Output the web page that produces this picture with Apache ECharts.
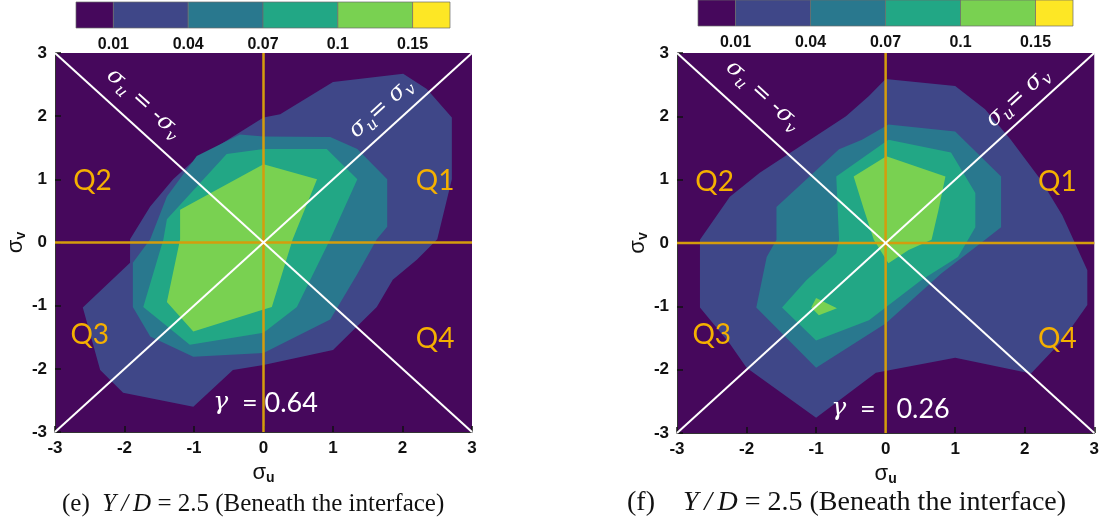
<!DOCTYPE html>
<html>
<head>
<meta charset="utf-8">
<script src="https://cdn.jsdelivr.net/npm/echarts@6/dist/echarts.min.js"></script>
<style>
  html, body { margin: 0; padding: 0; background: #fff; }
  #chart { width: 1102px; height: 522px; }
</style>
</head>
<body>
<div id="chart"></div>
<script>
// Contour levels of the joint PDF P(σu, σv) and the colour of each band
const levels = ['0.01', '0.04', '0.07', '0.1', '0.15'];
const bandColors = ['#46085c', '#3f4788', '#29788e', '#22a785', '#79d151', '#fde725'];

// Axis ticks shared by both panels
const axisTicks = [-3, -2, -1, 0, 1, 2, 3];

// Panel (e): iso-lines of the joint PDF, vertices in [σu, σv]
const eLevel1 = [[-1.92, 0.05], [-1.63, 0.57], [-1.30, 1.00], [-1.03, 1.27], [0.00, 1.98], [0.24, 2.03],
  [1.00, 2.54], [2.01, 2.67], [2.35, 2.43], [2.71, 1.98], [2.71, 1.00], [2.50, 0.05], [2.21, -0.27],
  [1.86, -0.59], [1.63, -1.02], [1.00, -1.70], [0.00, -1.94], [-0.44, -2.02], [-1.01, -2.60],
  [-2.02, -2.38], [-2.35, -2.02], [-2.60, -1.03], [-1.92, -0.32]];
const eLevel2 = [[-1.63, 0.05], [-1.39, 0.73], [-0.96, 1.37], [-0.34, 1.71], [0.00, 1.68], [0.96, 1.67],
  [1.35, 1.48], [1.78, 1.00], [1.78, 0.25], [1.63, 0.05], [1.35, -0.50], [0.96, -1.22], [0.00, -1.75],
  [-1.01, -1.81], [-1.63, -1.49], [-1.88, -1.02], [-1.88, -0.32]];
const eLevel3 = [[-1.44, 0.05], [-1.39, 0.37], [-0.53, 1.40], [0.00, 1.48], [0.91, 1.48], [1.35, 1.00],
  [0.96, 0.05], [0.48, -1.02], [0.00, -1.43], [-1.06, -1.62], [-1.73, -1.02]];
const eLevel4 = [[-1.20, 0.05], [-1.20, 0.52], [0.00, 1.24], [0.77, 1.00], [0.42, 0.05], [0.12, -1.02],
  [0.00, -1.06], [-1.01, -1.41], [-1.39, -0.94]];

// Panel (f)
const fLevel1 = [[0.00, 2.59], [1.00, 2.48], [1.43, 2.11], [1.80, 1.63], [2.23, 1.00], [2.54, 0.44],
  [2.90, -0.43], [2.90, -0.98], [2.54, -1.54], [2.09, -2.06], [1.00, -1.81], [-0.14, -2.05],
  [-1.00, -2.76], [-2.00, -1.97], [-2.24, -1.59], [-2.67, -1.02], [-2.67, 0.05], [-2.24, 0.73],
  [-1.81, 1.11], [-0.57, 2.00], [-0.24, 2.32]];
const fLevel2 = [[0.04, 1.87], [1.00, 1.76], [1.66, 1.05], [1.66, 0.25], [1.43, 0.05], [0.80, -0.48],
  [0.00, -1.27], [-1.00, -1.97], [-1.86, -1.02], [-1.71, -0.22], [-1.57, 0.05], [-1.57, 0.57],
  [-0.67, 1.48], [-0.34, 1.63]];
const fLevel3 = [[-0.71, 1.05], [0.04, 1.63], [0.94, 1.43], [1.29, 0.79], [1.29, 0.25], [1.04, -0.22],
  [0.51, -0.59], [-0.24, -1.22], [-1.00, -1.54], [-1.49, -1.02], [-1.14, -0.59], [-0.71, -0.16],
  [-0.67, 0.05]];
const fLevel4 = [[-0.46, 1.05], [0.01, 1.37], [0.86, 1.05], [0.76, 0.52], [0.66, 0.05], [0.33, -0.11],
  [0.04, -0.32], [-0.17, 0.05], [-0.31, 0.52]];
const fLevel4Island = [[-1.00, -0.87], [-0.70, -1.03], [-0.96, -1.14], [-1.07, -1.02]];

// Correlation coefficients
const gammaE = '0.64';
const gammaF = '0.26';

// Reference lines σu = σv, σu = -σv and the two axes through the origin
const diagUp = [[-3, -3], [3, 3]];
const diagDown = [[-3, 3], [3, -3]];
const vertZero = [[0, -3], [0, 3]];
const horzZero = [[-3, 0], [3, 0]];

// Quadrant names and their anchors in (σu, σv)
const quadrants = [['Q1', 2.47, 0.97], ['Q2', -2.46, 0.97], ['Q3', -2.5, -1.46], ['Q4', 2.47, -1.52]];

const ORANGE = '#d49d0c';
const QCOL = '#f5b000';
const AX_FONT = 'Liberation Sans';

const chart = echarts.init(document.getElementById('chart'), null, { renderer: 'canvas' });

function polygonSeries(idx, outline, color) {
  return {
    type: 'custom', xAxisIndex: idx, yAxisIndex: idx, silent: true, clip: true,
    data: outline,
    renderItem(params, api) {
      if (params.dataIndex !== 0) return null;
      return { type: 'polygon', shape: { points: outline.map(p => api.coord(p)) }, style: { fill: color } };
    }
  };
}

function lineSeries(idx, pts, color, width) {
  return {
    type: 'line', xAxisIndex: idx, yAxisIndex: idx, silent: true, symbol: 'none',
    data: pts, lineStyle: { color, width }, z: 5, animation: false
  };
}

// Text placed in data space, optionally rotated to follow a line
function textSeries(idx, items) {
  return {
    type: 'custom', xAxisIndex: idx, yAxisIndex: idx, silent: true, clip: false, z: 6,
    data: items.map(it => [it.at[0], it.at[1]]),
    renderItem(params, api) {
      const it = items[params.dataIndex];
      const p = api.coord(it.at);
      let rot = 0;
      if (it.along) {
        const a = api.coord(it.along[0]);
        const b = api.coord(it.along[1]);
        rot = -Math.atan2(b[1] - a[1], b[0] - a[0]);
      }
      return {
        type: 'text', x: p[0], y: p[1], rotation: rot,
        style: Object.assign({ align: 'center', verticalAlign: 'middle' }, it.style)
      };
    }
  };
}

const mathRich = {
  g: { fontFamily: 'DejaVu Serif', fontStyle: 'italic', fontSize: 23, fill: '#fff', lineHeight: 30, verticalAlign: 'middle' },
  s: { fontFamily: 'DejaVu Serif', fontStyle: 'italic', fontSize: 16, fill: '#fff', lineHeight: 30, verticalAlign: 'bottom' }
};

function panelTexts(idx, gamma, gap, labelPos) {
  const items = quadrants.map(q => ({
    at: [q[1], q[2]],
    style: { text: q[0], fill: QCOL, font: '28px Lato' }
  }));
  items.push({
    at: labelPos.gamma,
    style: {
      text: '{g|γ}{n|  =' + gap + '}{n|' + gamma + '}',
      rich: {
        g: { fontFamily: 'DejaVu Serif', fontStyle: 'italic', fontSize: 25, fill: '#fff' },
        n: { fontFamily: 'Lato', fontSize: 27, fill: '#fff' }
      }
    }
  });
  items.push({
    at: labelPos.minus, along: diagDown,
    style: { text: '{g|σ}{s|u}{g| = -σ}{s|v}', rich: mathRich }
  });
  items.push({
    at: labelPos.plus, along: diagUp,
    style: { text: '{g|σ}{s|u}{g|= σ}{s|v}', rich: mathRich }
  });
  return textSeries(idx, items);
}

function valueAxis(idx, isX, gap) {
  return {
    type: 'value', gridIndex: idx, min: -3, max: 3, interval: 1,
    name: isX ? '{a|σ}{b|u}' : '{a|σ}{b|v}',
    nameLocation: 'middle', nameGap: gap,
    nameTextStyle: {
      rich: {
        a: { fontFamily: AX_FONT, fontSize: 22, color: '#111' },
        b: { fontFamily: AX_FONT, fontWeight: 'bold', fontSize: 14, color: '#111', verticalAlign: 'bottom', lineHeight: 24 }
      }
    },
    axisLine: { show: true, onZero: false, lineStyle: { color: '#333', width: 1 } },
    axisTick: { show: true, inside: true, length: 6, lineStyle: { color: '#111', width: 1.5 } },
    axisLabel: {
      fontFamily: AX_FONT, fontWeight: 'bold', fontSize: 17, color: '#111', margin: 8,
      customValues: axisTicks
    },
    splitLine: { show: false }
  };
}

function colorbarAxes(idx) {
  return {
    x: {
      type: 'category', gridIndex: idx, data: levels, boundaryGap: true,
      axisLine: { show: false }, axisTick: { show: false },
      axisLabel: { fontFamily: AX_FONT, fontWeight: 'bold', fontSize: 16, color: '#111', margin: 9 }
    },
    y: { type: 'value', gridIndex: idx, min: 0, max: 1, show: false }
  };
}

function colorbarSeries(idx) {
  return {
    type: 'custom', xAxisIndex: idx, yAxisIndex: idx, silent: true, clip: false,
    data: bandColors.map(() => [0, 0.5]),
    renderItem(params, api) {
      const i = params.dataIndex;
      const cs = params.coordSys;
      const x0 = i === 0 ? cs.x : api.coord([i - 1, 0])[0];
      const x1 = i === bandColors.length - 1 ? cs.x + cs.width : api.coord([i, 0])[0];
      return {
        type: 'rect', shape: { x: x0, y: cs.y, width: x1 - x0, height: cs.height },
        style: { fill: bandColors[i], stroke: '#6a6a6a', lineWidth: 0.7 }
      };
    }
  };
}

const cbE = colorbarAxes(2);
const cbF = colorbarAxes(3);

function captionRich(size) {
  return {
    n: { fontFamily: 'Liberation Serif', fontWeight: 'normal', fontSize: size, color: '#111' },
    i: { fontFamily: 'Liberation Serif', fontWeight: 'normal', fontStyle: 'italic', fontSize: size, color: '#111' }
  };
}

const option = {
  backgroundColor: '#fff',
  animation: false,
  title: [
    { text: '{n|(e)  }{i|Y\u2009/\u2009D}{n| = 2.5 (Beneath the interface)}', left: 62, top: 492, padding: 0,
      textStyle: { fontWeight: 'normal', rich: captionRich(25) } },
    { text: '{n|(f)    }{i|Y\u2009/\u2009D}{n| = 2.5 (Beneath the interface)}', left: 627, top: 489, padding: 0,
      textStyle: { fontWeight: 'normal', rich: captionRich(28) } }
  ],
  grid: [
    { left: 55, top: 53, width: 417, height: 379, show: true, backgroundColor: bandColors[0], borderWidth: 0 },
    { left: 677, top: 53, width: 420, height: 380, show: true, backgroundColor: bandColors[0], borderWidth: 0 },
    { left: 76, top: 2, width: 374, height: 26 },
    { left: 698, top: 0, width: 375, height: 26 }
  ],
  xAxis: [valueAxis(0, true, 24), valueAxis(1, true, 24), cbE.x, cbF.x],
  yAxis: [valueAxis(0, false, 19), valueAxis(1, false, 24), cbE.y, cbF.y],
  series: [
    polygonSeries(0, eLevel1, bandColors[1]),
    polygonSeries(0, eLevel2, bandColors[2]),
    polygonSeries(0, eLevel3, bandColors[3]),
    polygonSeries(0, eLevel4, bandColors[4]),
    polygonSeries(1, fLevel1, bandColors[1]),
    polygonSeries(1, fLevel2, bandColors[2]),
    polygonSeries(1, fLevel3, bandColors[3]),
    polygonSeries(1, fLevel4, bandColors[4]),
    polygonSeries(1, fLevel4Island, bandColors[4]),
    lineSeries(0, vertZero, ORANGE, 2.5), lineSeries(0, horzZero, ORANGE, 2.5),
    lineSeries(1, vertZero, ORANGE, 2.5), lineSeries(1, horzZero, ORANGE, 2.5),
    lineSeries(0, diagUp, '#fff', 2), lineSeries(0, diagDown, '#fff', 2),
    lineSeries(1, diagUp, '#fff', 2), lineSeries(1, diagDown, '#fff', 2),
    panelTexts(0, gammaE, ' ', { gamma: [0.03, -2.54], minus: [-1.72, 2.2], plus: [1.69, 2.13] }),
    panelTexts(1, gammaF, '   ', { gamma: [0.07, -2.62], minus: [-1.76, 2.33], plus: [1.9, 2.3] }),
    colorbarSeries(2),
    colorbarSeries(3)
  ]
};

chart.setOption(option);
</script>
</body>
</html>
